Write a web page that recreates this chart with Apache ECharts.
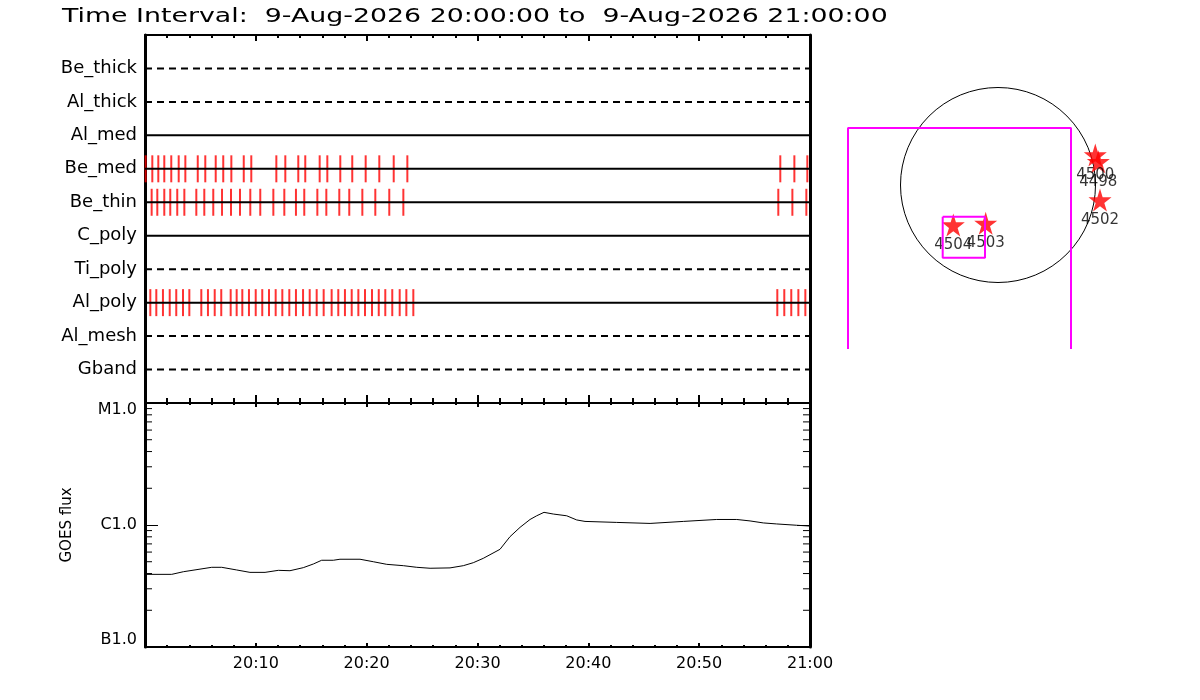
<!DOCTYPE html>
<html>
<head>
<meta charset="utf-8">
<script src="https://cdn.jsdelivr.net/npm/echarts@6/dist/echarts.min.js"></script>
<style>
html, body { margin: 0; padding: 0; background: #fff; }
#chart { width: 1200px; height: 700px; }
</style>
</head>
<body>
<div id="chart"></div>
<script>
var titleText = 'Time Interval:  9-Aug-2026 20:00:00 to  9-Aug-2026 21:00:00';

// filter rows, top to bottom
var filterNames = ['Be_thick', 'Al_thick', 'Al_med', 'Be_med', 'Be_thin', 'C_poly', 'Ti_poly', 'Al_poly', 'Al_mesh', 'Gband'];
var filterDashed = [true, true, false, false, false, false, true, false, true, true];

// exposure times, minutes after 20:00
var beMedTimes = [0.06, 0.66, 1.2, 1.74, 2.37, 3.04, 3.64, 4.76, 5.44, 6.38, 7.06, 7.79, 8.91, 9.59,
	11.85, 12.66, 13.83, 14.46, 15.76, 16.45, 17.62, 18.7, 19.91, 21.14, 22.44, 23.67,
	57.32, 58.59, 59.76];
var beThinTimes = [0.6, 1.11, 1.74, 2.28, 2.91, 3.55, 4.63, 5.35, 6.16, 6.95, 7.76, 8.57, 9.5, 10.4,
	11.58, 12.57, 13.62, 14.37, 15.55, 16.36, 17.53, 18.43, 19.61, 20.78, 22.04, 23.31,
	57.14, 58.41, 59.67];
var alPolyTimes = [0.48, 1.02, 1.62, 2.23, 2.82, 3.43, 4.0, 5.08, 5.68, 6.29, 6.88, 7.73, 8.27, 8.78,
	9.38, 9.99, 10.58, 11.19, 11.79, 12.39, 13.02, 13.62, 14.26, 14.86, 15.49, 16.12, 16.84,
	17.44, 18.04, 18.65, 19.25, 19.85, 20.48, 21.09, 21.68, 22.31, 22.98, 23.58, 24.21,
	57.05, 57.68, 58.31, 58.95, 59.58];

var timeLabels = ['', '20:10', '20:20', '20:30', '20:40', '20:50', '21:00'];

// GOES curve
var goesMinutes = [0, 2.41, 3.46, 6.02, 6.92, 8.27, 9.47, 10.83, 12.03, 13.08, 14.28, 15.19, 15.94,
	16.99, 17.59, 19.4, 20.6, 21.81, 23.31, 24.52, 25.72, 27.52, 28.72, 29.62, 30.52, 32.03,
	32.93, 33.84, 34.74, 35.34, 36.0, 36.84, 38.05, 38.95, 39.7, 42.56, 45.57, 48.57, 51.58,
	53.39, 54.59, 55.79, 56.99, 58.8, 60];
var goesFlux = [3.94e-7, 3.94e-7, 4.14e-7, 4.5e-7, 4.5e-7, 4.28e-7, 4.09e-7, 4.09e-7, 4.25e-7, 4.22e-7,
	4.47e-7, 4.79e-7, 5.14e-7, 5.14e-7, 5.24e-7, 5.24e-7, 5.0e-7, 4.76e-7, 4.64e-7, 4.5e-7,
	4.42e-7, 4.45e-7, 4.64e-7, 4.91e-7, 5.33e-7, 6.32e-7, 8.02e-7, 9.57e-7, 1.11e-6, 1.19e-6,
	1.27e-6, 1.23e-6, 1.19e-6, 1.1e-6, 1.07e-6, 1.05e-6, 1.03e-6, 1.07e-6, 1.11e-6, 1.11e-6,
	1.08e-6, 1.04e-6, 1.02e-6, 9.95e-7, 9.8e-7];

var fluxTicks = [1e-7, 1e-6, 1e-5];
var fluxLabels = ['B1.0', 'C1.0', 'M1.0'];
var minorFlux = [2e-7, 3e-7, 4e-7, 5e-7, 6e-7, 7e-7, 8e-7, 9e-7, 2e-6, 3e-6, 4e-6, 5e-6, 6e-6, 7e-6, 8e-6, 9e-6];

// locator panel, arcsec
var diskRadius = 975;
var fovBox = [-1500, 570, 730];          // left, top, right (bottom runs off the panel)
var zoomBox = [-553, -317, -130, -727];  // left, top, right, bottom
var arIds = ['4504', '4503', '4500', '4498', '4502'];
var arX = [-447, -123, 973, 1003, 1020];
var arY = [-400, -383, 300, 233, -150];

var font = 'DejaVu Sans';
var starPath = 'path://M50 0 L61 35 L98 35 L68 57 L79 91 L50 70 L21 91 L32 57 L2 35 L39 35 Z';

var series = [];

// red exposure ticks
function tickSeries(times, row) {
	return {
		type: 'scatter', xAxisIndex: 0, yAxisIndex: 0, z: 2,
		symbol: 'rect', symbolSize: [2, 27], silent: true,
		itemStyle: { color: '#ff0000' },
		data: times.map(function (t) { return [t, row]; })
	};
}
series.push(tickSeries(beMedTimes, 4));
series.push(tickSeries(beThinTimes, 5));
series.push(tickSeries(alPolyTimes, 8));

// filter rows
filterNames.forEach(function (name, i) {
	series.push({
		type: 'line', xAxisIndex: 0, yAxisIndex: 0, z: 3,
		showSymbol: false, silent: true,
		lineStyle: { color: '#000', width: 2, type: filterDashed[i] ? [7, 5] : 'solid' },
		data: [[0, i + 1], [60, i + 1]]
	});
});

// GOES
series.push({
	type: 'line', xAxisIndex: 2, yAxisIndex: 2,
	showSymbol: false, silent: true,
	lineStyle: { color: '#000', width: 1 },
	data: goesMinutes.map(function (t, i) { return [t, goesFlux[i]]; })
});
// log minor ticks on both sides
series.push({
	type: 'custom', xAxisIndex: 2, yAxisIndex: 2, silent: true,
	data: minorFlux.map(function (v) { return [0, v]; }),
	renderItem: function (params, api) {
		var l = api.coord([0, api.value(1)]);
		var r = api.coord([60, api.value(1)]);
		var st = { stroke: '#000', lineWidth: 1 };
		return {
			type: 'group', children: [
				{ type: 'line', shape: { x1: l[0], y1: l[1], x2: l[0] + 7, y2: l[1] }, style: st },
				{ type: 'line', shape: { x1: r[0] - 7, y1: r[1], x2: r[0], y2: r[1] }, style: st }
			]
		};
	}
});

// locator: disk
series.push({
	type: 'custom', xAxisIndex: 4, yAxisIndex: 4, silent: true,
	data: [[0, 0, diskRadius]],
	renderItem: function (params, api) {
		var c = api.coord([api.value(0), api.value(1)]);
		var r = api.size([api.value(2), 0])[0];
		return { type: 'circle', shape: { cx: c[0], cy: c[1], r: r }, style: { fill: 'none', stroke: '#000', lineWidth: 1 } };
	}
});
// FOV
series.push({
	type: 'line', xAxisIndex: 4, yAxisIndex: 4, showSymbol: false, silent: true, clip: true,
	lineStyle: { color: '#ff00ff', width: 2 },
	data: [[fovBox[0], -2500], [fovBox[0], fovBox[1]], [fovBox[2], fovBox[1]], [fovBox[2], -2500]]
});
series.push({
	type: 'line', xAxisIndex: 4, yAxisIndex: 4, showSymbol: false, silent: true,
	lineStyle: { color: '#ff00ff', width: 2 },
	data: [[zoomBox[0], zoomBox[1]], [zoomBox[2], zoomBox[1]], [zoomBox[2], zoomBox[3]], [zoomBox[0], zoomBox[3]], [zoomBox[0], zoomBox[1]]]
});
// active regions
series.push({
	type: 'scatter', xAxisIndex: 4, yAxisIndex: 4, silent: true,
	symbol: starPath, symbolSize: 23,
	itemStyle: { color: '#ff0000' },
	label: {
		show: true, position: 'bottom', distance: 1,
		formatter: '{b}', color: '#000', fontFamily: font, fontSize: 15
	},
	data: arIds.map(function (id, i) { return { name: id, value: [arX[i], arY[i]] }; })
});

function frameLine(w) {
	return { show: true, onZero: false, lineStyle: { color: '#000', width: w } };
}
function timeAxis(grid, pos, major, minor) {
	return {
		gridIndex: grid, type: 'value', min: 0, max: 60, interval: 10, position: pos,
		axisLine: frameLine(2),
		axisTick: { inside: true, length: major, lineStyle: { color: '#000', width: 2 } },
		minorTick: { show: true, splitNumber: 5, length: minor, lineStyle: { color: '#000', width: 2 } },
		axisLabel: { show: false }, splitLine: { show: false }
	};
}

var goesBottom = timeAxis(1, 'bottom', 4, 2);
goesBottom.axisLabel = {
	show: true, margin: 9, fontSize: 16, color: '#000', fontFamily: font,
	formatter: function (v) { return timeLabels[Math.round(v / 10)] || ''; }
};

var option = {
	backgroundColor: '#fff',
	animation: false,
	textStyle: { fontFamily: font },
	graphic: [{
		type: 'text', left: 62, top: 7, scaleX: 1.34, originX: 0,
		style: { text: titleText, fontFamily: font, fontSize: 20, fill: '#000' }
	}],
	grid: [
		{ left: 145, top: 35, width: 665, height: 368 },
		{ left: 145, top: 403, width: 665, height: 244 },
		{ left: 840, top: 30, width: 290, height: 318 }
	],
	xAxis: [
		timeAxis(0, 'bottom', 8, 5),
		timeAxis(0, 'top', 6, 3),
		goesBottom,
		timeAxis(1, 'top', 4, 2),
		{ gridIndex: 2, type: 'value', min: -1580, max: 1320, show: false }
	],
	yAxis: [
		{
			gridIndex: 0, type: 'value', min: 0, max: 11, interval: 1, inverse: true, position: 'left',
			axisLine: frameLine(3),
			axisTick: { show: false }, splitLine: { show: false },
			axisLabel: {
				margin: 8, fontSize: 18, color: '#000', fontFamily: font,
				formatter: function (v) { return filterNames[v - 1] || ''; }
			}
		},
		{
			gridIndex: 0, type: 'value', min: 0, max: 11, position: 'right',
			axisLine: frameLine(3),
			axisTick: { show: false }, axisLabel: { show: false }, splitLine: { show: false }
		},
		{
			gridIndex: 1, type: 'log', logBase: 10, min: 1e-7, max: 1e-5, position: 'left',
			name: 'GOES flux', nameLocation: 'middle', nameGap: 70,
			nameTextStyle: { fontSize: 15, color: '#000', fontFamily: font },
			axisLine: frameLine(3),
			axisTick: { inside: true, length: 13, lineStyle: { color: '#000', width: 1 } },
			splitLine: { show: false },
			axisLabel: {
				margin: 8, fontSize: 16, color: '#000', fontFamily: font,
				formatter: function (v) {
					var e = Math.round(Math.log10(v));
					for (var i = 0; i < fluxTicks.length; i++) {
						if (e === Math.round(Math.log10(fluxTicks[i]))) {
							var s = i === fluxTicks.length - 1 ? 'hi' : (i === 0 ? 'lo' : 'mid');
							return '{' + s + '|' + fluxLabels[i] + '}';
						}
					}
					return '';
				},
				rich: {
					hi: { fontSize: 16, color: '#000', fontFamily: font, padding: [14, 0, 0, 0] },
					mid: { fontSize: 16, color: '#000', fontFamily: font },
					lo: { fontSize: 16, color: '#000', fontFamily: font, padding: [0, 0, 14, 0] }
				}
			}
		},
		{
			gridIndex: 1, type: 'log', logBase: 10, min: 1e-7, max: 1e-5, position: 'right',
			axisLine: frameLine(3),
			axisTick: { inside: true, length: 13, lineStyle: { color: '#000', width: 1 } },
			axisLabel: { show: false }, splitLine: { show: false }
		},
		{ gridIndex: 2, type: 'value', min: -1630, max: 1550, show: false }
	],
	series: series
};

var chart = echarts.init(document.getElementById('chart'), null, { renderer: 'canvas' });
chart.setOption(option);
</script>
</body>
</html>
